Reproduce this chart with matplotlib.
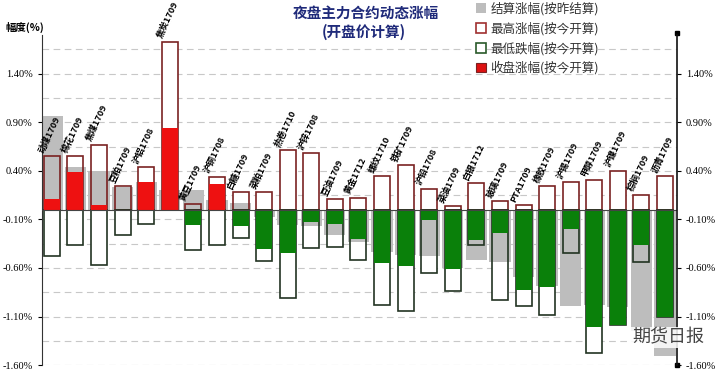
import matplotlib.pyplot as plt
import matplotlib.patches as mpatches
import numpy as np

plt.rcParams['font.family'] = ['Noto Sans CJK SC', 'DejaVu Sans']

# 合约名称
names = ["动煤1709", "棉花1709", "焦煤1709", "豆粕1709", "沪铝1708", "焦炭1709",
         "黄豆1709", "沪铜1708", "白糖1709", "菜粕1709", "热卷1710", "沪锌1708",
         "豆油1709", "黄金1712", "螺纹1710", "铁矿1709", "沪铅1708", "菜油1709",
         "白银1712", "玻璃1709", "PTA1709", "橡胶1709", "沪锡1709", "甲醇1709",
         "沪镍1709", "棕榈1709", "沥青1709"]
# 结算涨幅(按昨结算)
settle = [0.96, 0.44, 0.40, 0.23, 0.28, 0.20, 0.20, 0.10, 0.07, -0.08, -0.16, -0.17,
          -0.265, -0.33, -0.44, -0.47, -0.48, -0.60, -0.52, -0.54, -0.69, -0.79,
          -0.99, -0.98, -1.00, -1.245, -1.51]
# 最高涨幅(按今开算)
high = [0.55, 0.55, 0.67, 0.24, 0.44, 1.73, 0.055, 0.34, 0.18, 0.18, 0.61, 0.58,
        0.11, 0.125, 0.345, 0.46, 0.215, 0.035, 0.27, 0.085, 0.045, 0.24,
        0.285, 0.31, 0.40, 0.155, 0.345]
# 最低跌幅(按今开算)
low = [-0.48, -0.36, -0.57, -0.265, -0.145, 0.0, -0.42, -0.36, -0.29, -0.53, -0.91,
       -0.395, -0.385, -0.52, -0.98, -1.045, -0.65, -0.84, -0.36, -0.925, -0.99,
       -1.08, -0.45, -1.475, -1.19, -0.54, -1.11]
# 收盘涨幅(按今开算)
close = [0.11, 0.39, 0.05, 0.0, 0.285, 0.84, -0.16, 0.26, -0.17, -0.41, -0.45, -0.13,
         -0.145, -0.30, -0.55, -0.585, -0.11, -0.615, -0.315, -0.24, -0.825, -0.80,
         -0.195, -1.21, -1.19, -0.36, -1.105]

x = np.arange(len(names))
close_colors = ["#ee1111" if c >= 0 else "#0a800a" for c in close]

fig = plt.figure(figsize=(7.2, 3.71), dpi=100)
ax = fig.add_axes([0.058, 0.016, 0.882, 0.890])

# 网格
for g in np.arange(-1.6, 1.7, 0.25):
    ax.axhline(g, color="#c8c8c8", lw=0.8, ls=(0, (6, 4)), zorder=0)

ax.bar(x, high, width=0.68, color="white", zorder=1)
ax.bar(x, low, width=0.68, color="white", zorder=1)
ax.bar(x, settle, width=0.9, color="#bdbdbd", zorder=2)
ax.bar(x, high, width=0.68, facecolor="none", edgecolor="#7a2222", lw=1.2, zorder=3)
ax.bar(x, low, width=0.68, facecolor="none", edgecolor="#223322", lw=1.2, zorder=3)
ax.bar(x, close, width=0.68, color=close_colors, zorder=4)
ax.axhline(0, color="#444444", lw=0.8, zorder=5)

for i, n in enumerate(names):
    ax.text(i - 0.28, max(high[i], 0) + 0.02, n, rotation=65, rotation_mode="anchor",
            ha="left", va="bottom", fontsize=6.5, fontweight="bold", clip_on=False, zorder=6)

ax.set_xlim(-0.43, 26.5)
ax.set_ylim(-1.6, 1.8)
ticks = np.arange(-1.6, 1.5, 0.5)
ax.set_yticks(ticks)
ax.set_yticklabels(["{:.2f}%".format(t) for t in ticks], fontsize=7.5, family="Liberation Serif")
ax.set_xticks([])
ax.tick_params(axis="y", length=3, width=0.8)
for s in ["top", "bottom", "right"]:
    ax.spines[s].set_visible(False)
ax.spines["left"].set_color("#333333")

ax2 = ax.twinx()
ax2.set_ylim(-1.6, 1.8)
ax2.set_yticks(ticks)
ax2.set_yticklabels(["{:.2f}%".format(t) for t in ticks], fontsize=7.5, family="Liberation Serif")
ax2.tick_params(axis="y", length=3, width=0.8)
for s in ["top", "bottom", "left"]:
    ax2.spines[s].set_visible(False)
ax2.spines["right"].set_color("#111111")
ax2.spines["right"].set_linewidth(1.2)
ax2.plot([1], [1.82], marker="s", ms=3, color="black", transform=ax2.get_yaxis_transform(), clip_on=False)
ax2.plot([1], [-1.6], marker="s", ms=3, color="black", transform=ax2.get_yaxis_transform(), clip_on=False)

fig.text(0.508, 0.965, "夜盘主力合约动态涨幅", ha="center", va="center", fontsize=10.5,
         fontweight="bold", color="#1f2a7a")
fig.text(0.505, 0.915, "(开盘价计算)", ha="center", va="center", fontsize=10.5,
         fontweight="bold", color="#1f2a7a")
fig.text(0.008, 0.925, "幅度(%)", ha="left", va="center", fontsize=7.5, fontweight="bold")

handles = [
    mpatches.Patch(facecolor="#bdbdbd", edgecolor="none"),
    mpatches.Patch(facecolor="white", edgecolor="#a03030", lw=1.2),
    mpatches.Patch(facecolor="white", edgecolor="#2a5a2a", lw=1.2),
    mpatches.Patch(facecolor="#dd1111", edgecolor="#7a2222", lw=0.8),
]
labels = ["结算涨幅(按昨结算)", "最高涨幅(按今开算)", "最低跌幅(按今开算)", "收盘涨幅(按今开算)"]
fig.legend(handles, labels, loc="upper left", bbox_to_anchor=(0.645, 1.025), frameon=False,
           fontsize=9, handlelength=0.8, handleheight=0.8, handletextpad=0.4,
           labelspacing=0.5, labelcolor="#333333")

fig.text(0.978, 0.09, "期货日报", ha="right", va="center", fontsize=13, color="#444444",
         bbox=dict(facecolor="white", edgecolor="none", alpha=0.85, pad=1))

fig.savefig("out.png", dpi=100)
